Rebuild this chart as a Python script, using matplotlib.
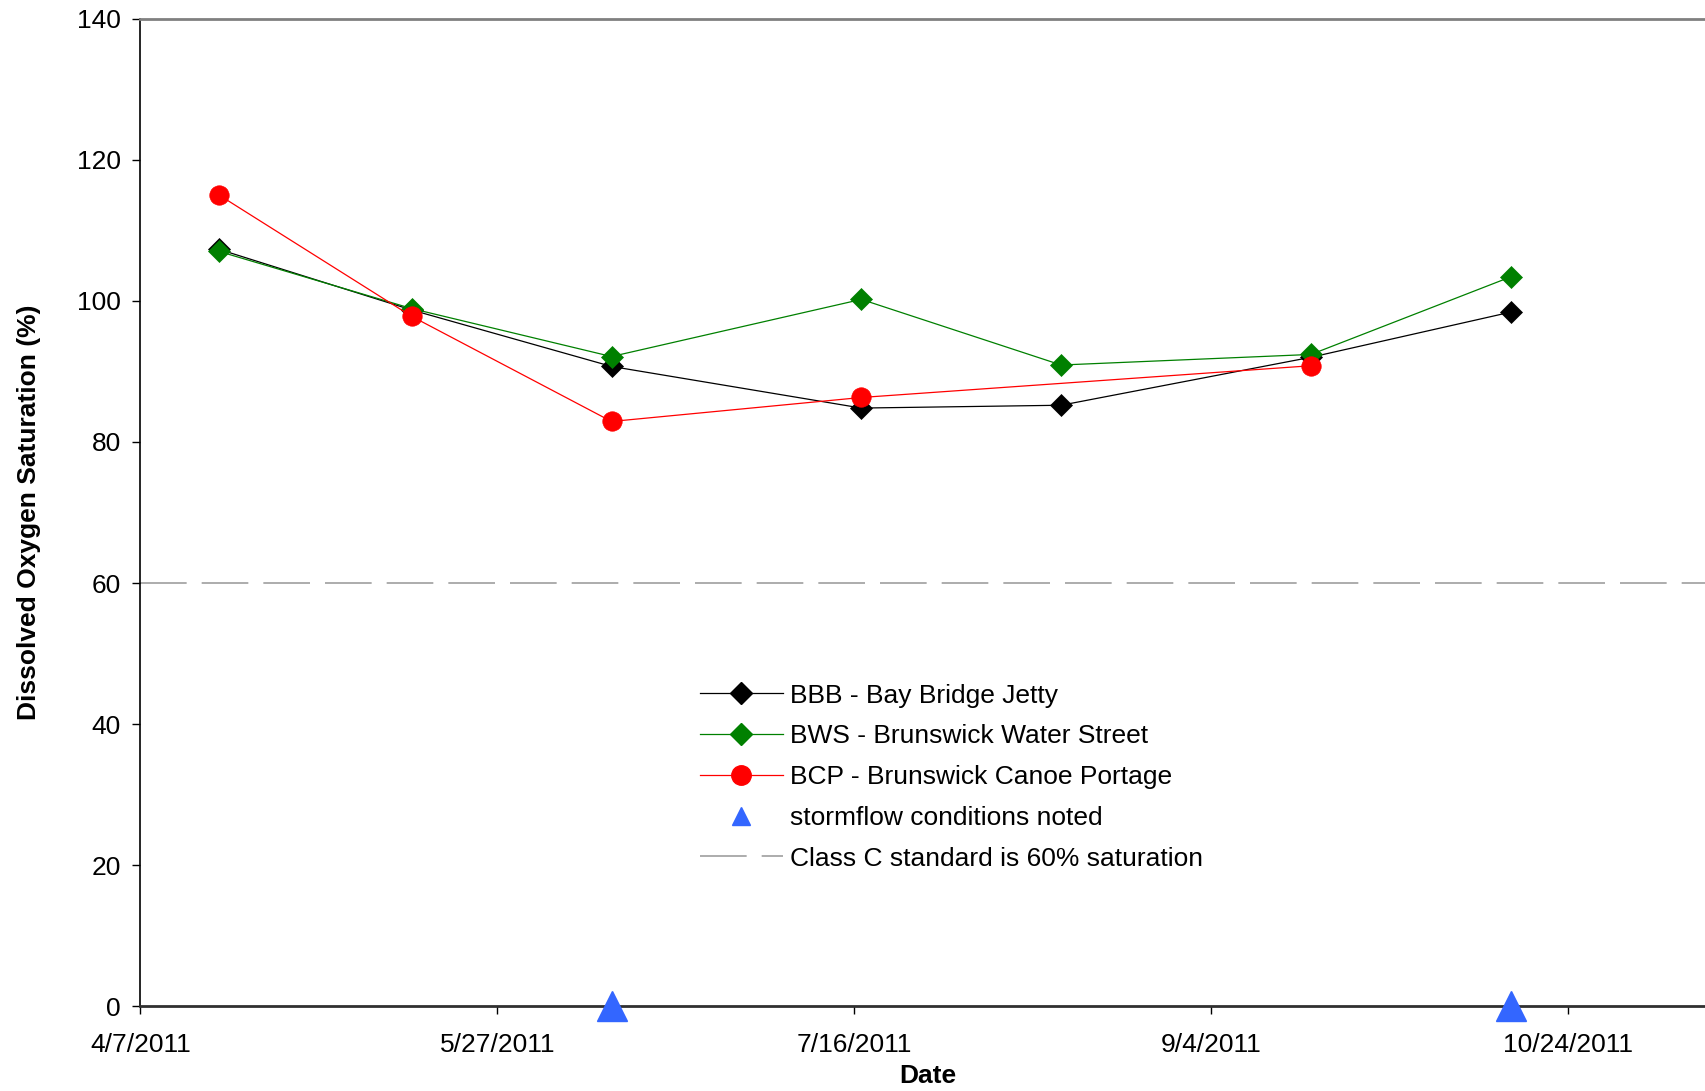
"""Dissolved oxygen saturation at Brunswick sites, 2011."""

import datetime as dt

import matplotlib
matplotlib.use("Agg")
import matplotlib.pyplot as plt
import matplotlib.dates as mdates
from matplotlib.lines import Line2D
from matplotlib.ticker import FuncFormatter

plt.rcParams["font.family"] = ["Liberation Sans", "DejaVu Sans"]
plt.rcParams["lines.scale_dashes"] = False

# data
bbb_dates = ["2011-04-18", "2011-05-15", "2011-06-12", "2011-07-17",
             "2011-08-14", "2011-09-18", "2011-10-16"]
bbb_values = [107.3, 98.7, 90.7, 84.8, 85.2, 92.0, 98.4]

bws_dates = bbb_dates
bws_values = [107.0, 98.9, 92.1, 100.2, 90.9, 92.4, 103.4]

bcp_dates = ["2011-04-18", "2011-05-15", "2011-06-12", "2011-07-17", "2011-09-18"]
bcp_values = [115.0, 97.8, 82.9, 86.3, 90.8]

storm_dates = ["2011-06-12", "2011-10-16"]
storm_values = [0, 0]

class_c_standard = 60

x_start = "2011-04-07"
x_end = "2011-12-13"
tick_step_days = 50
n_ticks = 5


def to_dates(strings):
    return [dt.datetime.strptime(s, "%Y-%m-%d") for s in strings]


fig = plt.figure(figsize=(17.06, 10.91), dpi=100)
# axes runs past the right edge of the figure, as in the original image
ax = fig.add_axes([0.0823, 0.0775, 1.046, 0.9055])

ax.axhline(class_c_standard, color="#a6a6a6", lw=1.3, dashes=(33.6, 10.8), zorder=1)

ax.plot(to_dates(bbb_dates), bbb_values, color="black", lw=0.9,
        marker="D", ms=11, mec="black", mew=0.5, zorder=3)
ax.plot(to_dates(bws_dates), bws_values, color="#008000", lw=0.9,
        marker="D", ms=11, mec="#008000", mew=0.5, zorder=3)
ax.plot(to_dates(bcp_dates), bcp_values, color="#ff0000", lw=0.9,
        marker="o", ms=14, mec="#ff0000", mew=0.5, zorder=3)
ax.plot(to_dates(storm_dates), storm_values, ls="none",
        marker="^", ms=21, color="#3366ff", mec="#3366ff",
        zorder=5, clip_on=False)

ax.set_ylim(0, 140)
ax.set_yticks(range(0, 141, 20))
start = dt.datetime.strptime(x_start, "%Y-%m-%d")
ax.set_xlim(mdates.date2num(start),
            mdates.date2num(dt.datetime.strptime(x_end, "%Y-%m-%d")))
ticks = [start + dt.timedelta(days=tick_step_days * i) for i in range(n_ticks)]
ax.set_xticks(mdates.date2num(ticks))
ax.xaxis.set_major_formatter(FuncFormatter(
    lambda v, _: "{d.month}/{d.day}/{d.year}".format(d=mdates.num2date(v))))

ax.tick_params(axis="both", direction="out", length=6, width=1,
               labelsize=19, color="black")
ax.tick_params(axis="x", pad=13)
ax.tick_params(axis="y", pad=8)

ax.spines["top"].set_color("#808080")
ax.spines["top"].set_linewidth(2)
ax.spines["left"].set_color("black")
ax.spines["left"].set_linewidth(1.2)
ax.spines["bottom"].set_color("#303030")
ax.spines["bottom"].set_linewidth(2)
ax.spines["right"].set_visible(False)

ax.set_ylabel("Dissolved Oxygen Saturation (%)", fontsize=19, fontweight="bold")
ax.yaxis.set_label_coords(-0.0555, 0.5)
fig.text(928 / 1706, 1 - 1076 / 1091, "Date", ha="center", va="center",
         fontsize=19, fontweight="bold")

# legend proxies (storm triangle is smaller in the key than on the axis)
handles = [
    Line2D([], [], color="black", lw=0.9, marker="D", ms=11, mec="black"),
    Line2D([], [], color="#008000", lw=0.9, marker="D", ms=11, mec="#008000"),
    Line2D([], [], color="#ff0000", lw=0.9, marker="o", ms=14, mec="#ff0000"),
    Line2D([], [], ls="none", marker="^", ms=13, color="#3366ff", mec="#3366ff"),
    Line2D([], [], color="#a6a6a6", lw=1.3, dashes=(33.6, 10.8)),
]
labels = ["BBB - Bay Bridge Jetty", "BWS - Brunswick Water Street",
          "BCP - Brunswick Canoe Portage", "stormflow conditions noted",
          "Class C standard is 60% saturation"]
ax.legend(handles, labels,
          loc="upper left", bbox_to_anchor=(700 / 1706, 1 - 683.5 / 1091),
          bbox_transform=fig.transFigure, frameon=False, fontsize=19,
          handlelength=3.14, handletextpad=0.28, labelspacing=0.635,
          borderpad=0, borderaxespad=0, numpoints=1)

fig.savefig("out.png", dpi=100)
